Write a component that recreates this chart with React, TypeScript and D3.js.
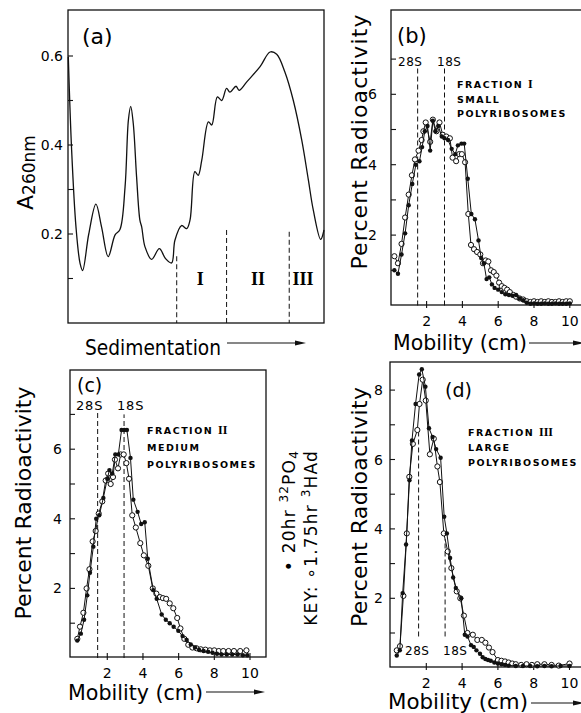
import React from 'react';
import * as d3 from 'd3';

type Pt = [number, number];

const FONT = "'DejaVu Sans', sans-serif";
const SERIF = "'Liberation Serif', serif";

// (a) A260 trace, position along gradient in % of tube length
const absPos = [0, 1.3, 3, 4.6, 5.6, 8, 10.8, 13, 15.6, 18.3, 20.2, 22.2, 23.5, 24.4, 25.4, 26.7, 28.0, 28.7, 30, 32.6, 35.6, 38, 40.4, 41.7, 44.3, 46.3, 47.6, 49.5, 50.8, 52.2, 54.8, 56.1, 58.3, 60, 61.9, 63.2, 65.6, 66.8, 69.8, 75, 78.9, 81.5, 84.7, 88, 91.3, 93.9, 95.8, 98.7, 100];
const absVal = [0.598, 0.389, 0.216, 0.134, 0.118, 0.2, 0.267, 0.216, 0.149, 0.198, 0.21, 0.306, 0.456, 0.487, 0.449, 0.329, 0.231, 0.216, 0.171, 0.143, 0.167, 0.145, 0.135, 0.186, 0.219, 0.212, 0.231, 0.34, 0.332, 0.366, 0.452, 0.445, 0.508, 0.5, 0.527, 0.519, 0.532, 0.523, 0.542, 0.576, 0.609, 0.604, 0.564, 0.5, 0.411, 0.321, 0.254, 0.188, 0.209];
const cutPos = [42.4, 61.9, 86.4];
const cutTop = [0.15, 0.209, 0.205];
const fracNames = ['I', 'II', 'III'];
const fracNamePos = [51.6, 74.2, 91.8];
const absTicks = [0.1, 0.2, 0.3, 0.4, 0.5, 0.6];
const absTickLabels = [0.2, 0.4, 0.6];

// (b) fraction I  [mobility cm, percent radioactivity]
const bFilled: Pt[] = [[0.2, 1.0], [0.4, 0.9], [0.6, 1.45], [0.8, 2.05], [1.0, 2.85], [1.2, 3.45], [1.4, 4.0], [1.6, 4.1], [1.75, 4.5], [1.9, 4.95], [2.05, 5.1], [2.2, 4.4], [2.35, 5.25], [2.5, 4.95], [2.65, 5.1], [2.85, 4.8], [3.0, 4.75], [3.2, 4.7], [3.4, 4.45], [3.6, 4.3], [3.75, 4.55], [3.95, 4.6], [4.1, 4.6], [4.3, 3.6], [4.5, 2.6], [4.7, 2.45], [4.9, 1.85], [5.05, 1.35], [5.2, 1.2], [5.35, 0.75], [5.5, 0.8], [5.65, 0.6], [5.8, 0.5], [6.0, 0.45], [6.2, 0.38], [6.4, 0.32], [6.6, 0.3], [6.8, 0.28], [7.0, 0.3], [7.2, 0.2], [7.4, 0.15], [7.6, 0.08], [7.8, 0.05], [8.0, 0.06], [8.2, 0.05], [8.4, 0.05], [8.6, 0.06], [8.8, 0.05], [9.0, 0.05], [9.2, 0.06], [9.4, 0.05], [9.6, 0.05], [9.8, 0.05], [10.0, 0.06]];
const bOpen: Pt[] = [[0.2, 1.4], [0.4, 1.2], [0.6, 1.75], [0.8, 2.5], [1.0, 3.15], [1.18, 3.7], [1.35, 4.15], [1.55, 4.4], [1.72, 4.7], [1.82, 4.95], [1.95, 5.2], [2.2, 4.65], [2.35, 5.28], [2.55, 4.95], [2.72, 5.2], [2.9, 4.85], [3.1, 4.8], [3.3, 4.75], [3.45, 4.2], [3.65, 4.1], [3.82, 4.3], [3.97, 4.3], [4.15, 4.07], [4.33, 2.6], [4.48, 1.72], [4.65, 1.6], [4.82, 1.52], [5.0, 1.45], [5.15, 1.2], [5.3, 1.28], [5.45, 1.25], [5.6, 1.0], [5.75, 0.95], [5.9, 0.85], [6.05, 0.65], [6.2, 0.55], [6.35, 0.5], [6.5, 0.45], [6.65, 0.38], [6.85, 0.3], [7.0, 0.25], [7.2, 0.2], [7.4, 0.17], [7.6, 0.12], [7.8, 0.1], [8.0, 0.12], [8.2, 0.1], [8.4, 0.12], [8.6, 0.1], [8.8, 0.12], [9.0, 0.1], [9.2, 0.1], [9.4, 0.12], [9.6, 0.1], [9.8, 0.12], [10.0, 0.12]];

// (c) fraction II
const cFilled: Pt[] = [[0.32, 0.5], [0.52, 0.7], [0.7, 1.1], [0.88, 1.8], [1.03, 2.45], [1.22, 3.2], [1.38, 4.0], [1.55, 4.1], [1.78, 4.6], [2.0, 5.15], [2.12, 5.4], [2.28, 5.3], [2.45, 5.85], [2.62, 5.85], [2.8, 6.55], [2.95, 6.55], [3.1, 6.55], [3.3, 5.75], [3.46, 4.55], [3.7, 4.2], [3.9, 3.85], [4.1, 3.9], [4.27, 2.85], [4.58, 1.95], [4.77, 1.7], [5.05, 1.25], [5.28, 1.1], [5.5, 1.0], [5.72, 0.9], [5.98, 0.78], [6.22, 0.63], [6.45, 0.52], [6.68, 0.39], [6.92, 0.3], [7.15, 0.23], [7.4, 0.2], [7.65, 0.18], [7.9, 0.15], [8.15, 0.12], [8.4, 0.1], [8.7, 0.1], [9.0, 0.1], [9.3, 0.1], [9.6, 0.08], [9.85, 0.08]];
const cOpen: Pt[] = [[0.32, 0.55], [0.47, 0.9], [0.66, 1.3], [0.84, 2.0], [1.0, 2.55], [1.18, 3.35], [1.35, 3.65], [1.52, 4.15], [1.72, 4.5], [1.91, 5.1], [2.05, 5.3], [2.19, 5.0], [2.32, 5.2], [2.43, 5.7], [2.6, 5.45], [2.75, 5.85], [2.92, 5.85], [3.07, 5.6], [3.22, 5.15], [3.4, 4.1], [3.6, 3.75], [3.85, 3.3], [4.05, 2.95], [4.3, 2.65], [4.55, 2.0], [4.75, 1.85], [4.95, 1.75], [5.12, 1.72], [5.3, 1.7], [5.5, 1.57], [5.7, 1.43], [5.92, 1.15], [6.1, 0.85], [6.32, 0.55], [6.54, 0.38], [6.77, 0.3], [7.0, 0.28], [7.24, 0.25], [7.5, 0.24], [7.75, 0.22], [8.0, 0.22], [8.25, 0.2], [8.5, 0.2], [8.8, 0.2], [9.1, 0.2], [9.45, 0.2], [9.8, 0.22]];

// (d) fraction III
const dFilled: Pt[] = [[0.35, 0.35], [0.52, 0.5], [0.68, 2.15], [0.87, 3.55], [1.06, 5.4], [1.2, 6.55], [1.4, 7.6], [1.6, 8.45], [1.75, 8.6], [1.95, 8.1], [2.15, 6.9], [2.35, 6.65], [2.55, 6.3], [2.8, 6.05], [3.0, 4.35], [3.15, 3.87], [3.33, 3.16], [3.5, 2.6], [3.65, 2.3], [3.95, 2.0], [4.15, 0.95], [4.3, 0.9], [4.5, 0.65], [4.65, 0.6], [4.8, 0.5], [5.0, 0.4], [5.15, 0.3], [5.3, 0.25], [5.45, 0.22], [5.6, 0.2], [5.8, 0.15], [6.0, 0.12], [6.2, 0.1], [6.4, 0.08], [6.6, 0.06], [7.0, 0.05], [7.4, 0.05], [7.8, 0.05], [8.2, 0.04], [8.6, 0.05], [9.0, 0.04], [9.5, 0.05], [10.0, 0.05]];
const dOpen: Pt[] = [[0.35, 0.5], [0.53, 0.62], [0.72, 2.07], [0.91, 3.87], [1.05, 5.5], [1.25, 6.45], [1.5, 6.85], [1.62, 7.6], [1.8, 8.3], [1.97, 7.7], [2.2, 6.15], [2.42, 6.6], [2.62, 5.8], [2.76, 5.35], [2.98, 3.87], [3.2, 3.35], [3.4, 2.87], [3.7, 2.2], [3.9, 2.0], [4.1, 1.5], [4.3, 1.0], [4.6, 0.95], [4.85, 0.8], [5.1, 0.8], [5.3, 0.72], [5.5, 0.58], [5.7, 0.45], [6.0, 0.22], [6.2, 0.2], [6.4, 0.18], [6.6, 0.15], [6.8, 0.12], [7.0, 0.1], [7.3, 0.08], [7.6, 0.1], [7.9, 0.08], [8.2, 0.1], [8.6, 0.1], [9.0, 0.08], [9.4, 0.06], [10.0, 0.12]];

// 28S and 18S reference positions (cm) and the span of each dashed marker
const rnaNames = ['28S', '18S'];
const bRna = [1.5, 3.0];
const cRna = [1.46, 2.94];
const dRna = [1.57, 3.05];
const bRnaSpan: Pt[] = [[0, 6.75], [0, 6.75]];
const cRnaSpan: Pt[] = [[0, 7.05], [0, 7.0]];
const dRnaSpan: Pt[] = [[0.9, 6.85], [0.9, 3.7]];

const fracSizes = ['SMALL', 'MEDIUM', 'LARGE'];
const mobTicks = [2, 4, 6, 8, 10];

function Arrow({ x1, x2, y }: { x1: number; x2: number; y: number }) {
  return (
    <g>
      <line x1={x1} x2={x2 - 6} y1={y} y2={y} stroke="#111" strokeWidth={1.2} />
      <path d={`M${x2},${y}L${x2 - 11},${y - 2.6}L${x2 - 11},${y + 2.6}Z`} fill="#111" />
    </g>
  );
}

function Series({ data, x, y, open }: { data: Pt[]; x: any; y: any; open: boolean }) {
  const line = d3.line<Pt>().x(d => x(d[0])).y(d => y(d[1]));
  return (
    <g>
      <path d={line(data) || ''} fill="none" stroke="#111" strokeWidth={1} />
      {data.map((d, i) =>
        open ? (
          <circle key={i} cx={x(d[0])} cy={y(d[1])} r={2.6} fill="#fff" stroke="#111" strokeWidth={1} />
        ) : (
          <circle key={i} cx={x(d[0])} cy={y(d[1])} r={2.2} fill="#111" />
        )
      )}
    </g>
  );
}

type PanelProps = {
  frame: { l: number; t: number; r: number; b: number };
  xr: [number, number]; // px at 0 and 10 cm
  yr: [number, number]; // px at 0 and 6
  yTicks: number[];
  yLabels: number[];
  labelRight: number;
  xLabelBase: number;
  filled: Pt[];
  open: Pt[];
  rna: number[];
  rnaSpan: Pt[];
};

function MobilityPanel(p: PanelProps) {
  const x = d3.scaleLinear().domain([0, 10]).range(p.xr);
  const y = d3.scaleLinear().domain([0, 6]).range(p.yr);
  const f = p.frame;
  return (
    <g>
      <rect x={f.l} y={f.t} width={f.r - f.l} height={f.b - f.t} fill="none" stroke="#111" strokeWidth={1.3} />
      {p.yTicks.map(t => (
        <line key={t} x1={f.l} x2={f.l + 5} y1={y(t)} y2={y(t)} stroke="#111" strokeWidth={1.1} />
      ))}
      {p.yLabels.map(t => (
        <text key={t} x={p.labelRight} y={y(t) + 5} textAnchor="end" fontSize={14} fontFamily={FONT}>{t}</text>
      ))}
      {mobTicks.map(t => (
        <g key={t}>
          <line x1={x(t)} x2={x(t)} y1={f.b - 4} y2={f.b + 3} stroke="#111" strokeWidth={1.1} />
          <text x={x(t)} y={p.xLabelBase} textAnchor="middle" fontSize={14} fontFamily={FONT}>{t}</text>
        </g>
      ))}
      {p.rna.map((r, i) => (
        <line key={i} x1={x(r)} x2={x(r)} y1={y(p.rnaSpan[i][0])} y2={y(p.rnaSpan[i][1])}
          stroke="#111" strokeWidth={1} strokeDasharray="5,3" />
      ))}
      <Series data={p.open} x={x} y={y} open={true} />
      <Series data={p.filled} x={x} y={y} open={false} />
    </g>
  );
}

function FractionLabel({ x, y, gap, name, size }: { x: number; y: number; gap: number; name: string; size: string }) {
  const st = { fontSize: 9.5, fontFamily: FONT, fontWeight: 700 as const, letterSpacing: 1.5 };
  return (
    <g>
      <text x={x} y={y} style={st}>FRACTION <tspan fontFamily={SERIF} fontSize={12} letterSpacing={0}>{name}</tspan></text>
      <text x={x} y={y + gap} style={st}>{size}</text>
      <text x={x} y={y + gap * 2} style={st}>POLYRIBOSOMES</text>
    </g>
  );
}

export default function App() {
  const ax = d3.scaleLinear().domain([0, 100]).range([68.3, 324]);
  const ay = d3.scaleLinear().domain([0, 0.6]).range([323, 56]);
  const absPts: Pt[] = absPos.map((p, i) => [p, absVal[i]]);
  const absLine = d3.line<Pt>().x(d => ax(d[0])).y(d => ay(d[1])).curve(d3.curveCatmullRom.alpha(0.5));

  return (
    <svg width={581} height={713} style={{ position: 'absolute', left: 0, top: 0, background: '#fff' }}>
      <rect width={581} height={713} fill="#fff" />

      {/* (a) */}
      <rect x={68} y={10} width={256} height={313} fill="none" stroke="#111" strokeWidth={1.3} />
      {absTicks.map(t => (
        <line key={t} x1={68} x2={73} y1={ay(t)} y2={ay(t)} stroke="#111" strokeWidth={1.1} />
      ))}
      {absTickLabels.map(t => (
        <text key={t} x={63} y={ay(t) + 5} textAnchor="end" fontSize={14} fontFamily={FONT}>{t.toFixed(1)}</text>
      ))}
      <path d={absLine(absPts) || ''} fill="none" stroke="#111" strokeWidth={1.3} />
      {cutPos.map((c, i) => (
        <line key={c} x1={ax(c)} x2={ax(c)} y1={ay(cutTop[i])} y2={ay(0)} stroke="#111" strokeWidth={1} strokeDasharray="5,3" />
      ))}
      {fracNames.map((n, i) => (
        <text key={n} x={ax(fracNamePos[i])} y={ay(0.1) + 6} textAnchor="middle" fontSize={18} fontWeight={700} fontFamily={SERIF}>{n}</text>
      ))}
      <text x={82} y={44} fontSize={22} fontFamily={FONT}>(a)</text>
      <text transform="translate(33,210) rotate(-90)" fontFamily={FONT}>
        <tspan fontSize={22}>A</tspan>
        <tspan fontSize={17} dy={2}>260nm</tspan>
      </text>
      <text x={85} y={355} fontSize={21} fontFamily={FONT} textLength={136} lengthAdjust="spacingAndGlyphs">Sedimentation</text>
      <Arrow x1={227} x2={306} y={343} />

      {/* (b) */}
      <MobilityPanel frame={{ l: 391, t: 10, r: 600, b: 305 }} xr={[390.8, 569.8]} yr={[305.5, 94.3]}
        yTicks={[1, 2, 3, 4, 5, 6, 7]} yLabels={[2, 4, 6]} labelRight={377} xLabelBase={326}
        filled={bFilled} open={bOpen} rna={bRna} rnaSpan={bRnaSpan} />
      <text x={397} y={43} fontSize={21} fontFamily={FONT}>(b)</text>
      <text x={398} y={66} fontSize={12} fontFamily={FONT} letterSpacing={0.5}>{rnaNames[0]}</text>
      <text x={437} y={66} fontSize={12} fontFamily={FONT} letterSpacing={0.5}>{rnaNames[1]}</text>
      <FractionLabel x={457} y={88} gap={14.5} name={fracNames[0]} size={fracSizes[0]} />
      <text transform="translate(367,142) rotate(-90)" textAnchor="middle" fontSize={22} fontFamily={FONT}
        textLength={255} lengthAdjust="spacing">Percent Radioactivity</text>
      <text x={393} y={350} fontSize={21} fontFamily={FONT} textLength={134} lengthAdjust="spacingAndGlyphs">Mobility (cm)</text>
      <Arrow x1={529} x2={584} y={343} />

      {/* (c) */}
      <MobilityPanel frame={{ l: 70, t: 370, r: 266, b: 657 }} xr={[71.6, 250]} yr={[658, 449.2]}
        yTicks={[1, 2, 3, 4, 5, 6, 7]} yLabels={[2, 4, 6]} labelRight={62} xLabelBase={678}
        filled={cFilled} open={cOpen} rna={cRna} rnaSpan={cRnaSpan} />
      <text x={77} y={392} fontSize={19} fontFamily={FONT}>(c)</text>
      <text x={76} y={410} fontSize={13} fontFamily={FONT} letterSpacing={0.8}>{rnaNames[0]}</text>
      <text x={117} y={410} fontSize={13} fontFamily={FONT} letterSpacing={0.8}>{rnaNames[1]}</text>
      <FractionLabel x={147} y={434} gap={17} name={fracNames[1]} size={fracSizes[1]} />
      <text transform="translate(31,503) rotate(-90)" textAnchor="middle" fontSize={22} fontFamily={FONT}
        textLength={233} lengthAdjust="spacing">Percent Radioactivity</text>
      <text x={68} y={700} fontSize={21} fontFamily={FONT} textLength={135} lengthAdjust="spacingAndGlyphs">Mobility (cm)</text>
      <Arrow x1={206} x2={265} y={692} />

      {/* key */}
      <text transform="translate(295,450) rotate(-90)" textAnchor="end" fontSize={17} fontFamily={FONT} letterSpacing={1.2}>
        <tspan>• 20hr </tspan>
        <tspan fontSize={12} dy={-7}>32</tspan>
        <tspan dy={7}>PO</tspan>
        <tspan fontSize={12} dy={3}>4</tspan>
      </text>
      <text transform="translate(317,450) rotate(-90)" textAnchor="end" fontSize={17} fontFamily={FONT} letterSpacing={1.2}>
        <tspan>KEY:  ∘1.75hr </tspan>
        <tspan fontSize={12} dy={-7}>3</tspan>
        <tspan dy={7}>HAd</tspan>
      </text>

      {/* (d) */}
      <MobilityPanel frame={{ l: 390, t: 362, r: 600, b: 667 }} xr={[390.5, 569.5]} yr={[667.7, 459.5]}
        yTicks={[1, 2, 3, 4, 5, 6, 7, 8]} yLabels={[2, 4, 6, 8]} labelRight={383} xLabelBase={688}
        filled={dFilled} open={dOpen} rna={dRna} rnaSpan={dRnaSpan} />
      <text x={445} y={397} fontSize={19} fontFamily={FONT}>(d)</text>
      <text x={405} y={655} fontSize={12} fontFamily={FONT} letterSpacing={0.5}>{rnaNames[0]}</text>
      <text x={443} y={655} fontSize={12} fontFamily={FONT} letterSpacing={0.5}>{rnaNames[1]}</text>
      <FractionLabel x={468} y={436} gap={15} name={fracNames[2]} size={fracSizes[2]} />
      <text transform="translate(367,507) rotate(-90)" textAnchor="middle" fontSize={22} fontFamily={FONT}
        textLength={240} lengthAdjust="spacing">Percent Radioactivity</text>
      <text x={388} y={709} fontSize={21} fontFamily={FONT} textLength={140} lengthAdjust="spacingAndGlyphs">Mobility (cm)</text>
      <Arrow x1={531} x2={584} y={703} />
    </svg>
  );
}
